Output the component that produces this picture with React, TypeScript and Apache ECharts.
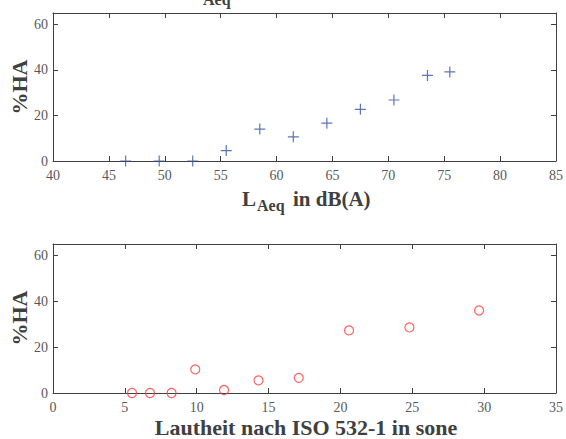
import React, { useEffect, useRef } from "react";
import * as echarts from "echarts";

const laeqX = [46.5, 49.5, 52.5, 55.5, 58.5, 61.5, 64.5, 67.5, 70.5, 73.5, 75.5];
const laeqHA = [0, 0, 0, 4.6, 14, 10.6, 16.6, 22.7, 26.8, 37.6, 39.1];
const soneX = [5.5, 6.75, 8.25, 9.9, 11.9, 14.3, 17.1, 20.6, 24.8, 29.65];
const soneHA = [0, 0, 0, 10.3, 1.3, 5.5, 6.6, 27.3, 28.6, 36];

const SERIF = "Liberation Serif";
const AXIS_COLOR = "#404040";
const LABEL_COLOR = "#595959";
const TITLE_COLOR = "#404040";

function xAxisPair(gridIndex: number, min: number, max: number, interval: number) {
  return [
    {
      type: "value",
      gridIndex,
      position: "bottom",
      min,
      max,
      interval,
      splitLine: { show: false },
      axisLine: { show: true, onZero: false, lineStyle: { color: AXIS_COLOR, width: 1 } },
      axisTick: { show: true, inside: true, length: 5, lineStyle: { color: AXIS_COLOR } },
      axisLabel: { show: true, margin: 7, color: LABEL_COLOR, fontFamily: SERIF, fontSize: 14 },
    },
    {
      type: "value",
      gridIndex,
      position: "top",
      min,
      max,
      interval,
      splitLine: { show: false },
      axisLine: { show: true, onZero: false, lineStyle: { color: AXIS_COLOR, width: 1 } },
      axisTick: { show: true, inside: true, length: 5, lineStyle: { color: AXIS_COLOR } },
      axisLabel: { show: false },
    },
  ];
}

function yAxisPair(gridIndex: number) {
  return [
    {
      type: "value",
      gridIndex,
      position: "left",
      min: 0,
      max: 65,
      interval: 20,
      splitLine: { show: false },
      axisLine: { show: true, onZero: false, lineStyle: { color: AXIS_COLOR, width: 1 } },
      axisTick: { show: true, inside: true, length: 5, lineStyle: { color: AXIS_COLOR } },
      axisLabel: { show: true, margin: 5, color: LABEL_COLOR, fontFamily: SERIF, fontSize: 14, showMaxLabel: false },
    },
    {
      type: "value",
      gridIndex,
      position: "right",
      min: 0,
      max: 65,
      interval: 20,
      splitLine: { show: false },
      axisLine: { show: true, onZero: false, lineStyle: { color: AXIS_COLOR, width: 1 } },
      axisTick: { show: true, inside: true, length: 5, lineStyle: { color: AXIS_COLOR } },
      axisLabel: { show: false },
    },
  ];
}

export default function App() {
  const ref = useRef<HTMLDivElement>(null);
  useEffect(() => {
    document.body.style.margin = "0";
    if (!ref.current) return;
    const chart = echarts.init(ref.current, null, { renderer: "svg" });
    const boldText = (text: string, x: number, y: number, size: number, extra: any = {}) => ({
      type: "text",
      x,
      y,
      style: {
        text,
        fill: TITLE_COLOR,
        fontFamily: SERIF,
        fontWeight: "bold",
        fontSize: size,
        ...extra,
      },
    });
    chart.setOption({
      animation: false,
      backgroundColor: "#ffffff",
      grid: [
        { left: 53, right: 7, top: 13, height: 148 },
        { left: 53, right: 7, top: 244, height: 149 },
      ],
      xAxis: [...xAxisPair(0, 40, 85, 5), ...xAxisPair(1, 0, 35, 5)],
      yAxis: [...yAxisPair(0), ...yAxisPair(1)],
      series: [
        {
          type: "scatter",
          xAxisIndex: 0,
          yAxisIndex: 0,
          symbol: "path://M0,5L10,5M5,0L5,10",
          symbolSize: 11,
          itemStyle: { color: "transparent", borderColor: "#3352a8", borderWidth: 1.2 },
          data: laeqX.map((x, i) => [x, laeqHA[i]]),
        },
        {
          type: "scatter",
          xAxisIndex: 2,
          yAxisIndex: 2,
          symbol: "circle",
          symbolSize: 9,
          itemStyle: { color: "transparent", borderColor: "#ff3b3b", borderWidth: 1.2 },
          data: soneX.map((x, i) => [x, soneHA[i]]),
        },
      ],
      graphic: [
        boldText("Aeq", 203, 7, 16, { textVerticalAlign: "bottom" }),
        boldText("L", 242, 188, 21, { textVerticalAlign: "top" }),
        boldText("Aeq", 257, 197, 16, { textVerticalAlign: "top" }),
        boldText("in dB(A)", 293, 188, 21, { textVerticalAlign: "top" }),
        boldText("Lautheit nach ISO 532-1 in sone", 306, 427, 22, { textAlign: "center", textVerticalAlign: "middle" }),
        {
          type: "text",
          x: 19,
          y: 87,
          rotation: Math.PI / 2,
          style: { text: "%HA", fill: TITLE_COLOR, fontFamily: SERIF, fontWeight: "bold", fontSize: 22, textAlign: "center", textVerticalAlign: "middle" },
        },
        {
          type: "text",
          x: 19,
          y: 318,
          rotation: Math.PI / 2,
          style: { text: "%HA", fill: TITLE_COLOR, fontFamily: SERIF, fontWeight: "bold", fontSize: 22, textAlign: "center", textVerticalAlign: "middle" },
        },
      ],
    });
    return () => chart.dispose();
  }, []);
  return <div ref={ref} style={{ width: 566, height: 439 }} />;
}
